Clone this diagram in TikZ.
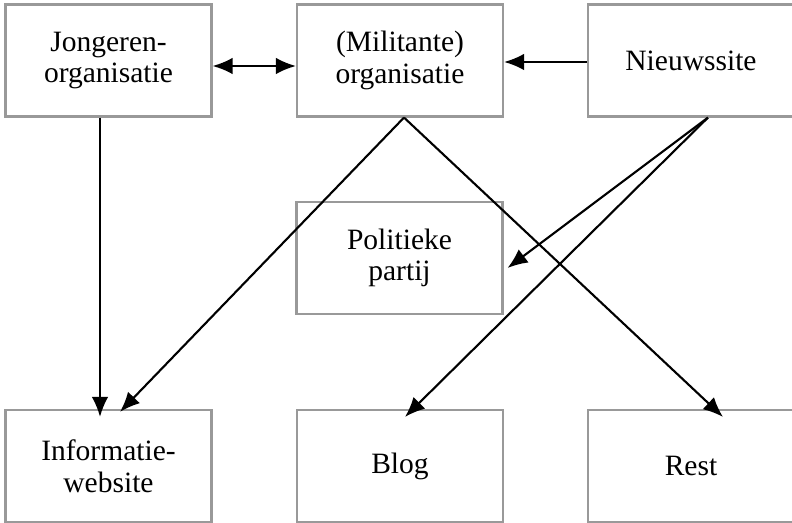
\documentclass[tikz,border=0pt]{standalone}
\usepackage{fontspec}
\setmainfont{Liberation Serif}
\usetikzlibrary{arrows.meta}

\tikzset{
  box/.style={draw=gray!80,line width=1.2pt,minimum width=4.12cm,minimum height=2.24cm,
    align=center,font=\fontsize{16.8}{18}\selectfont},
  link/.style={line width=1.2pt,-{Latex[length=4mm,width=3.3mm]}},
  link2/.style={line width=1.2pt,{Latex[length=4mm,width=3.3mm]}-{Latex[length=4mm,width=3.3mm]}}
}

\begin{document}
\begin{tikzpicture}

\useasboundingbox (0,0) rectangle (15.84,-10.46);

\node[box] (jong) at (2.17,-1.21) {Jongeren-\\organisatie};
\node[box] (mil) at (8.0,-1.21) {(Militante)\\organisatie};
\node[box] (nieuw) at (13.82,-1.21) {Nieuwssite};
\node[box] (pol) at (7.99,-5.16) {Politieke\\partij};
\node[box] (info) at (2.17,-9.32) {Informatie-\\website};
\node[box] (blog) at (8.0,-9.32) {Blog};
\node[box] (rest) at (13.82,-9.32) {Rest};

\coordinate (milout) at ([xshift=0.08cm]mil.south);
\coordinate (nieuwout) at ([xshift=0.34cm]nieuw.south);

\draw [link2] ([yshift=-0.11cm]jong.east) -- ([yshift=-0.11cm]mil.west);
\draw [link] ([yshift=-0.03cm]nieuw.west) -- ([yshift=-0.03cm]mil.east);
\draw [link] ([xshift=-0.17cm]jong.south) -- ([xshift=-0.17cm,yshift=-0.16cm]info.north);
\draw [link] (milout) -- ([xshift=0.23cm,yshift=-0.06cm]info.north);
\draw [link] (milout) -- ([xshift=0.64cm,yshift=-0.16cm]rest.north);
\draw [link] (nieuwout) -- ([xshift=0.08cm,yshift=-0.2cm]pol.east);
\draw [link] (nieuwout) -- ([xshift=0.1cm,yshift=-0.16cm]blog.north);
\end{tikzpicture}
\end{document}
